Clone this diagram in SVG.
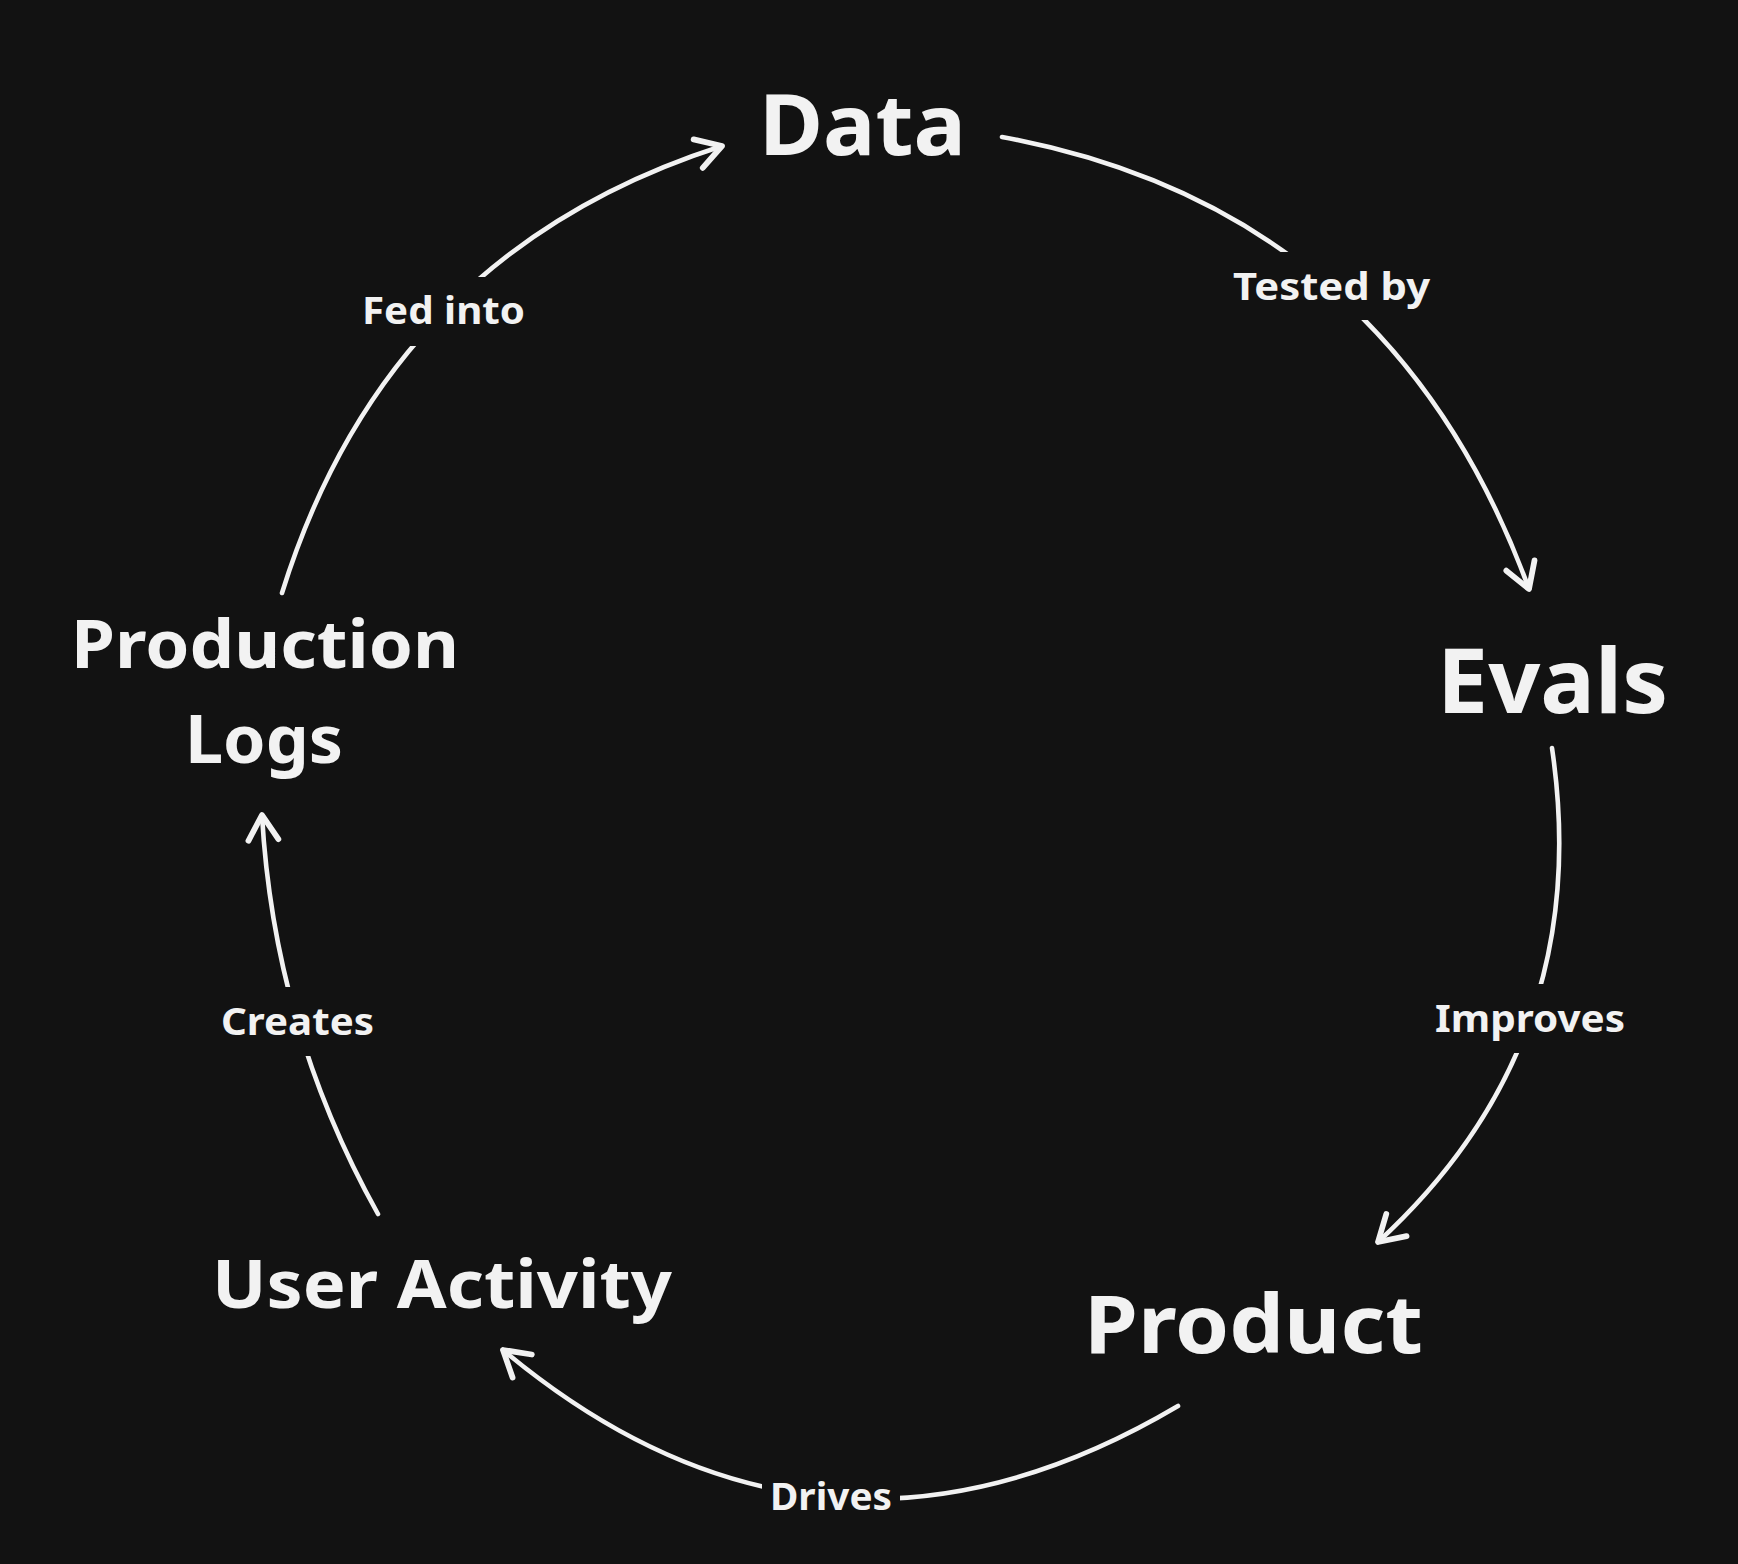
<svg xmlns="http://www.w3.org/2000/svg" width="1738" height="1564" viewBox="0 0 1738 1564">
  <style>
    .bg { fill: #121212; }
    .node { font-family: "Noto Sans", "Liberation Sans", sans-serif; font-weight: 700; fill: #f2f2f2; text-anchor: middle; }
    .lbl { font-family: "Noto Sans", "Liberation Sans", sans-serif; font-weight: 700; fill: #f2f2f2; text-anchor: middle; font-size: 37px; }
    .edge { fill: none; stroke: #f2f2f2; stroke-width: 4.6; stroke-linecap: round; stroke-linejoin: round; }
  </style>
  <defs>
    <marker id="head" markerUnits="userSpaceOnUse" markerWidth="40" markerHeight="40" viewBox="-24 -16 28 32" refX="0" refY="0" orient="auto">
      <path d="M -20 -12 L 0 0 L -20 12" fill="none" stroke="#f2f2f2" stroke-width="4.6" stroke-linecap="round" stroke-linejoin="round"/>
    </marker>
    <mask id="labelGaps" maskUnits="userSpaceOnUse" x="0" y="0" width="1738" height="1564">
      <rect x="0" y="0" width="1738" height="1564" fill="#fff"/>
      <rect x="1225" y="252" width="215" height="68" fill="#000"/>
      <rect x="350" y="277" width="185" height="69" fill="#000"/>
      <rect x="1425" y="984" width="210" height="69" fill="#000"/>
      <rect x="211" y="987" width="173" height="69" fill="#000"/>
      <rect x="762" y="1462" width="138" height="70" fill="#000"/>
    </mask>
  </defs>
  <rect class="bg" x="0" y="0" width="1738" height="1564"/>

  <g id="connectors">
    <g mask="url(#labelGaps)">
      <path id="e-data-evals" class="edge" d="M 1002 137 Q 1390 208.5 1529 589" marker-end="url(#head)"/>
      <path id="e-evals-product" class="edge" d="M 1552 748 Q 1595.5 1042.5 1378 1242" marker-end="url(#head)"/>
      <path id="e-product-user" class="edge" d="M 1178 1406 Q 822 1616.5 503 1350" marker-end="url(#head)"/>
      <path id="e-user-logs" class="edge" d="M 378 1214 Q 274 1028 262 815" marker-end="url(#head)"/>
      <path id="e-logs-data" class="edge" d="M 282 593 Q 387.5 253 722 146" marker-end="url(#head)"/>
    </g>
    <text class="lbl" x="1331.5" y="300" textLength="197" lengthAdjust="spacingAndGlyphs">Tested by</text>
    <text class="lbl" x="1530" y="1032" textLength="190" lengthAdjust="spacingAndGlyphs">Improves</text>
    <text class="lbl" x="831" y="1510" textLength="122" lengthAdjust="spacingAndGlyphs">Drives</text>
    <text class="lbl" x="297.5" y="1035" textLength="153" lengthAdjust="spacingAndGlyphs">Creates</text>
    <text class="lbl" x="443.5" y="324" textLength="163" lengthAdjust="spacingAndGlyphs">Fed into</text>
  </g>

  <g id="node-data">
    <text class="node" x="862.5" y="155" font-size="84" textLength="207" lengthAdjust="spacingAndGlyphs">Data</text>
  </g>
  <g id="node-evals">
    <text class="node" x="1552.5" y="713" font-size="90" textLength="231" lengthAdjust="spacingAndGlyphs">Evals</text>
  </g>
  <g id="node-product">
    <text class="node" x="1253.5" y="1353" font-size="81" textLength="339" lengthAdjust="spacingAndGlyphs">Product</text>
  </g>
  <g id="node-user-activity">
    <text class="node" x="442" y="1308" font-size="66" textLength="460" lengthAdjust="spacingAndGlyphs">User Activity</text>
  </g>
  <g id="node-production-logs">
    <text class="node" x="265" y="668" font-size="67" textLength="388" lengthAdjust="spacingAndGlyphs">Production</text>
    <text class="node" x="264" y="763" font-size="67" textLength="158" lengthAdjust="spacingAndGlyphs">Logs</text>
  </g>
</svg>
